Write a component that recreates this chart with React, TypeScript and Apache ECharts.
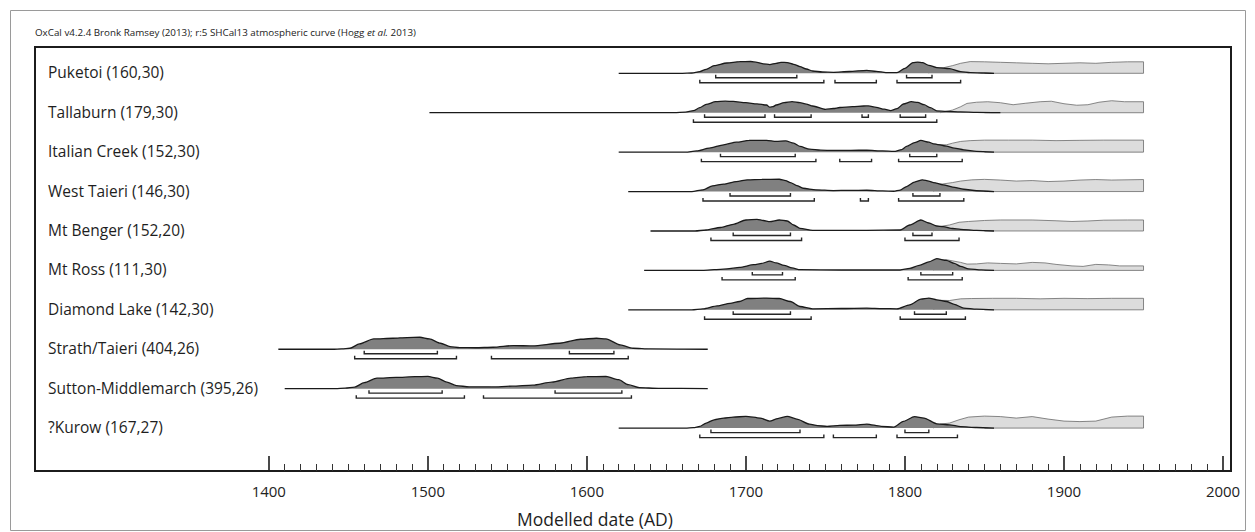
import React, { useEffect, useRef } from "react";
import * as echarts from "echarts";

// ---------- data ----------
const titleText = "OxCal v4.2.4 Bronk Ramsey (2013); r:5 SHCal13 atmospheric curve (Hogg {i|et al.} 2013)";
const xAxisTitle = "Modelled date (AD)";
const tickYears = [1400, 1500, 1600, 1700, 1800, 1900, 2000];

const rowLabels = [
  "Puketoi (160,30)",
  "Tallaburn (179,30)",
  "Italian Creek (152,30)",
  "West Taieri (146,30)",
  "Mt Benger (152,20)",
  "Mt Ross (111,30)",
  "Diamond Lake (142,30)",
  "Strath/Taieri (404,26)",
  "Sutton-Middlemarch (395,26)",
  "?Kurow (167,27)",
];

// modelled (posterior) distributions: [year, relative height]
const darkPuketoi = [[1620,0],[1660,0],[1666,0.3],[1671,1.7],[1675,4],[1680,7.7],[1688,10.3],[1696,11.7],[1703,11.8],[1707,11],[1711,9.5],[1715,8.7],[1719,10],[1722,11],[1726,10.7],[1730,9],[1734,6.7],[1738,4.3],[1742,2.3],[1748,1.3],[1755,1],[1765,1.8],[1776,3],[1782,2],[1788,0.7],[1795,0.7],[1800,5],[1805,10.7],[1808,11.2],[1811,10.7],[1815,8],[1820,5.7],[1828,4.7],[1835,1.7],[1841,0.7],[1850,0.3],[1856,0]];
const darkTallaburn = [[1501,0],[1655,0],[1662,0.5],[1667,2],[1671,5],[1675,8.3],[1681,11],[1687,11.5],[1692,11.3],[1700,10],[1707,8.8],[1713,7.7],[1715,5.5],[1717,6],[1719,7.7],[1724,10],[1729,11],[1734,10],[1738,8.5],[1742,6.7],[1750,3.3],[1755,4.2],[1759,5.2],[1767,6],[1774,6.7],[1777,6.8],[1782,5.3],[1787,3.5],[1791,2],[1795,4],[1799,8.7],[1804,11],[1808,10.3],[1812,8],[1816,5],[1820,1.8],[1826,1.3],[1835,0.8],[1845,0.4],[1860,0]];
const darkItalian = [[1620,0],[1662,0],[1669,1.2],[1677,4],[1686,7.3],[1694,10],[1702,11.7],[1713,11.8],[1719,10.7],[1725,11.3],[1730,9],[1734,5.7],[1740,3],[1747,2],[1755,1.7],[1766,1.8],[1776,2],[1786,1.2],[1793,0.7],[1798,2.5],[1801,5.7],[1806,9.5],[1810,11.7],[1815,10],[1818,8.3],[1826,6],[1831,4],[1837,2.3],[1845,0.8],[1856,0]];
const darkWestTaieri = [[1626,0],[1666,0],[1673,1.7],[1679,5.7],[1686,7.5],[1694,10],[1701,11.7],[1710,12.2],[1721,12.3],[1725,11],[1728,9],[1732,6],[1736,3.3],[1744,1.7],[1755,1],[1765,1.2],[1776,1.3],[1786,0.6],[1793,0.3],[1797,1.5],[1801,5],[1806,9.5],[1811,11.7],[1815,10.5],[1818,9],[1824,6.7],[1830,4.5],[1837,2.3],[1845,0.8],[1856,0]];
const darkMtBenger = [[1640,0],[1668,0],[1675,1],[1684,3.5],[1692,6.7],[1700,11],[1707,11.7],[1711,10.5],[1715,9.3],[1721,11],[1726,10],[1730,6],[1734,2.7],[1742,0.7],[1760,0.6],[1776,0.7],[1797,1],[1803,6],[1810,11],[1815,8],[1820,5],[1824,4.3],[1830,2.5],[1835,1.7],[1845,0.6],[1856,0]];
const darkMtRoss = [[1636,0],[1672,0],[1680,0.7],[1688,1.5],[1696,3],[1705,5.7],[1710,7],[1715,9.3],[1719,7.5],[1724,5],[1729,2.5],[1734,0.7],[1760,0.4],[1797,0.4],[1803,2],[1809,5],[1815,8.5],[1820,11.7],[1826,10],[1831,7],[1835,4],[1840,1.5],[1848,0.5],[1856,0]];
const darkDiamond = [[1626,0],[1666,0],[1673,1],[1682,4],[1690,6.5],[1696,8.3],[1701,11.3],[1713,11.7],[1721,11.3],[1728,8.3],[1734,3.3],[1742,1],[1760,1.3],[1776,1.7],[1786,1.2],[1795,1],[1803,5],[1810,10.7],[1815,11.7],[1820,10],[1826,8.3],[1831,5.5],[1837,1.7],[1845,0.6],[1856,0]];
const darkStrath = [[1406,0],[1440,0],[1446,0.4],[1451,1],[1457,5.3],[1466,10.3],[1478,11],[1487,11.7],[1495,12],[1501,10.3],[1508,6],[1514,2.7],[1520,1.7],[1530,1.5],[1541,2],[1554,3.7],[1566,3.3],[1583,6],[1596,10],[1606,11],[1612,10.3],[1621,4.3],[1629,1],[1640,0.3],[1676,0]];
const darkSutton = [[1410,0],[1442,0],[1448,0.5],[1454,1.5],[1460,6],[1468,10.5],[1480,11.2],[1492,12],[1500,12.2],[1506,10.5],[1512,6.5],[1518,3],[1526,1.8],[1540,1.7],[1553,2.5],[1566,3.5],[1578,6.5],[1590,10.5],[1600,12],[1612,12.2],[1620,9],[1626,4],[1633,1],[1645,0.3],[1676,0]];
const darkKurow = [[1620,0],[1662,0],[1667,0.4],[1671,1.7],[1675,5],[1680,8.3],[1686,10],[1692,11],[1700,11.7],[1709,10],[1715,7],[1720,9.5],[1726,11.7],[1732,9],[1740,4],[1745,2.5],[1751,1.7],[1759,2.7],[1768,3],[1776,4],[1785,1.7],[1793,1],[1799,6.7],[1806,11.5],[1812,10],[1820,4.3],[1828,3.3],[1835,1.5],[1845,0.6],[1856,0]];

// unmodelled (likelihood) distributions, visible after ~1820
const lightPuketoi = [[1815,0],[1818,5],[1824,5.5],[1830,7.7],[1835,10],[1841,11.7],[1850,11.5],[1860,11],[1870,10.5],[1880,10],[1890,9.5],[1900,10],[1910,10.5],[1920,10],[1930,11],[1940,11.5],[1950,11.5],[1950,0],[1850,0]];
const lightTallaburn = [[1822,0],[1826,1.3],[1830,2.7],[1835,6],[1839,9.3],[1845,10.5],[1852,11],[1860,10],[1868,8],[1876,9.5],[1885,11],[1892,11.5],[1900,9],[1908,7.5],[1915,8],[1922,10.5],[1930,12],[1938,11],[1950,11],[1950,0],[1850,0]];
const lightItalian = [[1818,0],[1820,7.5],[1826,7.3],[1830,9],[1835,10.7],[1841,11.5],[1850,12],[1865,12],[1880,12],[1895,11.5],[1910,11.8],[1925,12],[1950,12],[1950,0],[1850,0]];
const lightWestTaieri = [[1818,0],[1822,7.2],[1830,9],[1835,10.5],[1842,11.7],[1850,12.2],[1860,11.5],[1870,10.5],[1880,11],[1890,10],[1900,10.5],[1910,11.5],[1920,12],[1930,11.5],[1950,12],[1950,0],[1850,0]];
const lightMtBenger = [[1818,0],[1822,4.5],[1828,6],[1834,8.7],[1840,9.5],[1850,10.5],[1860,11],[1880,11],[1895,10.2],[1905,9.5],[1915,10],[1925,10.8],[1940,11],[1950,11],[1950,0],[1850,0]];
const lightMtRoss = [[1818,0],[1820,10.7],[1826,10.7],[1835,8],[1839,6.3],[1845,6.5],[1852,7.5],[1860,7],[1870,6.5],[1880,8],[1888,7.5],[1895,6],[1905,4.5],[1912,4],[1920,6],[1928,5.5],[1935,4.5],[1950,4.5],[1950,0],[1850,0]];
const lightDiamond = [[1818,0],[1822,9.5],[1828,9.3],[1835,11],[1842,11.3],[1855,11.5],[1870,11.5],[1885,11],[1900,11.5],[1915,11.2],[1930,11.5],[1950,11.5],[1950,0],[1850,0]];
const lightKurow = [[1818,0],[1822,4],[1828,5],[1834,8.3],[1840,11],[1850,12],[1860,11.5],[1870,10],[1880,11.5],[1890,9],[1900,7],[1910,6.5],[1920,7],[1930,11],[1940,12],[1950,12],[1950,0],[1850,0]];

// ranges: [from, to, level] level 1 = 68.2%, level 2 = 95.4%
const rangesPuketoi = [[1681,1732,1],[1801,1817,1],[1671,1749,2],[1756,1782,2],[1795,1835,2]];
const rangesTallaburn = [[1674,1712,1],[1718,1741,1],[1773,1777,1],[1797,1813,1],[1667,1820,2]];
const rangesItalian = [[1684,1731,1],[1803,1820,1],[1672,1744,2],[1759,1779,2],[1796,1836,2]];
const rangesWestTaieri = [[1690,1728,1],[1805,1822,1],[1673,1743,2],[1772,1777,2],[1796,1837,2]];
const rangesMtBenger = [[1692,1728,1],[1805,1817,1],[1678,1735,2],[1800,1834,2]];
const rangesMtRoss = [[1704,1723,1],[1810,1830,1],[1685,1731,2],[1802,1836,2]];
const rangesDiamond = [[1692,1728,1],[1806,1826,1],[1674,1741,2],[1797,1838,2]];
const rangesStrath = [[1460,1506,1],[1589,1617,1],[1454,1518,2],[1540,1626,2]];
const rangesSutton = [[1463,1509,1],[1580,1622,1],[1455,1523,2],[1535,1628,2]];
const rangesKurow = [[1678,1734,1],[1800,1815,1],[1671,1749,2],[1755,1782,2],[1795,1833,2]];

const darkRows = [darkPuketoi, darkTallaburn, darkItalian, darkWestTaieri, darkMtBenger, darkMtRoss, darkDiamond, darkStrath, darkSutton, darkKurow];
const lightRows = [lightPuketoi, lightTallaburn, lightItalian, lightWestTaieri, lightMtBenger, lightMtRoss, lightDiamond, null, null, lightKurow];
const rangeRows = [rangesPuketoi, rangesTallaburn, rangesItalian, rangesWestTaieri, rangesMtBenger, rangesMtRoss, rangesDiamond, rangesStrath, rangesSutton, rangesKurow];

// ---------- layout ----------
const W = 1255;
const H = 532;
const FRAME = { left: 35, top: 47, right: 1231, bottom: 471 };
const X_MIN = 1253;
const X_MAX = 2005;
const FIRST_BASE = 73.3;
const ROW_STEP = 39.42;
const ROW_UP = 25;
const ROW_DOWN = 12;
const FONT = '"Open Sans", "Noto Sans", sans-serif';

function buildOption() {
  const pxPerYear = (FRAME.right - FRAME.left) / (X_MAX - X_MIN);
  const tickLeft = FRAME.left + (tickYears[0] - X_MIN) * pxPerYear;
  const tickRight = FRAME.left + (tickYears[tickYears.length - 1] - X_MIN) * pxPerYear;

  const grids: any[] = [
    { left: FRAME.left, top: FRAME.top, width: FRAME.right - FRAME.left, height: FRAME.bottom - FRAME.top, show: true, borderColor: "#1c1c1c", borderWidth: 2, backgroundColor: "transparent", outerBoundsMode: "none" },
    { left: tickLeft, top: FRAME.top, width: tickRight - tickLeft, height: FRAME.bottom - FRAME.top, show: false, outerBoundsMode: "none" },
  ];
  const xAxes: any[] = [
    { type: "value", gridIndex: 0, min: X_MIN, max: X_MAX, show: false },
    {
      type: "value", gridIndex: 1, min: tickYears[0], max: tickYears[tickYears.length - 1], interval: tickYears[1] - tickYears[0],
      axisLine: { show: false },
      axisTick: { show: true, inside: true, length: 15, lineStyle: { color: "#1c1c1c", width: 1.6 } },
      minorTick: { show: true, splitNumber: 10, length: 7, lineStyle: { color: "#333", width: 1 } },
      splitLine: { show: false },
      minorSplitLine: { show: false },
      axisLabel: { show: true, margin: 12, fontSize: 15, fontFamily: FONT, color: "#222", showMinLabel: true, showMaxLabel: true, formatter: (v: number) => String(v) },
    },
  ];
  const yAxes: any[] = [
    { type: "value", gridIndex: 0, show: false, min: 0, max: 1 },
    { type: "value", gridIndex: 1, show: false, min: 0, max: 1 },
  ];
  const series: any[] = [];
  const graphics: any[] = [];

  rowLabels.forEach((label, i) => {
    const base = FIRST_BASE + i * ROW_STEP;
    const gi = grids.length;
    grids.push({ left: FRAME.left, top: base - ROW_UP, width: FRAME.right - FRAME.left, height: ROW_UP + ROW_DOWN, show: false, outerBoundsMode: "none" });
    xAxes.push({ type: "value", gridIndex: gi, min: X_MIN, max: X_MAX, show: false });
    yAxes.push({ type: "value", gridIndex: gi, min: -ROW_DOWN, max: ROW_UP, show: false });

    const light = lightRows[i];
    if (light) {
      series.push({
        type: "line", xAxisIndex: gi, yAxisIndex: gi, data: light, symbol: "none", z: 2,
        lineStyle: { color: "#6a6a6a", width: 0.8 },
        areaStyle: { color: "#dcdcdc", opacity: 1 },
        silent: true,
      });
    }
    series.push({
      type: "line", xAxisIndex: gi, yAxisIndex: gi, data: darkRows[i], symbol: "none", z: 3,
      smooth: 0.25, smoothMonotone: "x",
      lineStyle: { color: "#1a1a1a", width: 1.3 },
      areaStyle: { color: "#808080", opacity: 1 },
      silent: true,
    });
    series.push({
      type: "custom", xAxisIndex: gi, yAxisIndex: gi, data: rangeRows[i], z: 4, silent: true,
      renderItem: (params: any, api: any) => {
        const a = api.coord([api.value(0), 0]);
        const b = api.coord([api.value(1), 0]);
        const lv = api.value(2);
        const y = a[1] + (lv === 1 ? 4.5 : 9.5);
        return {
          type: "polyline",
          shape: { points: [[a[0], y - 3], [a[0], y], [b[0], y], [b[0], y - 3]] },
          style: { stroke: "#262626", lineWidth: 1.4, fill: null },
        };
      },
    });

    graphics.push({
      type: "text", x: 48, y: base - 1,
      style: { text: label, fontSize: 15.5, fontFamily: FONT, fill: "#1e1e1e", align: "left", verticalAlign: "middle" },
    });
  });

  graphics.push({
    type: "rect", shape: { x: 10.5, y: 10.5, width: 1235, height: 520 },
    style: { stroke: "#9a9a9a", lineWidth: 1, fill: "none" }, z: -1,
  });
  graphics.push({
    type: "text", x: FRAME.left, y: 32,
    style: {
      text: titleText, fontSize: 9.8, fontFamily: FONT, fill: "#222", align: "left", verticalAlign: "middle",
      rich: { i: { fontStyle: "italic", fontSize: 9.8, fontFamily: FONT, fill: "#222" } },
    },
  });
  graphics.push({
    type: "text", x: 595, y: 519,
    style: { text: xAxisTitle, fontSize: 17.5, fontFamily: FONT, fill: "#1e1e1e", align: "center", verticalAlign: "middle" },
  });

  return {
    animation: false,
    backgroundColor: "#ffffff",
    grid: grids,
    xAxis: xAxes,
    yAxis: yAxes,
    series,
    graphic: graphics,
  };
}

export default function App() {
  const ref = useRef<HTMLDivElement>(null);
  useEffect(() => {
    if (!ref.current) return;
    const chart = echarts.init(ref.current, null, { renderer: "svg" });
    chart.setOption(buildOption() as any);
    return () => chart.dispose();
  }, []);
  return <div ref={ref} style={{ position: "absolute", left: 0, top: 0, width: W, height: H }} />;
}
